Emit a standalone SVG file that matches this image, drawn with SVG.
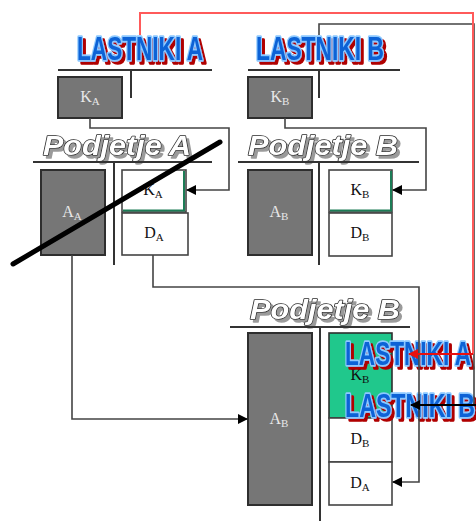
<svg xmlns="http://www.w3.org/2000/svg" width="476" height="521" viewBox="0 0 476 521">
  <style>
    .owner { font-family: "Liberation Sans", "DejaVu Sans", sans-serif; font-size: 34px; font-weight: bold; fill: #0a62d6; stroke: #8cc8ff; stroke-width: 3.5; paint-order: stroke; stroke-linejoin: round; filter: url(#red-shadow); }
    .company { font-family: "Liberation Sans", "DejaVu Sans", sans-serif; font-size: 28px; font-weight: bold; font-style: italic; fill: #ffffff; stroke: #2a2a2a; stroke-width: 1.5; paint-order: stroke; stroke-linejoin: round; filter: url(#gray-shadow); }
    .rule { stroke: #333333; stroke-width: 2; fill: none; }
    .dark { fill: #767676; stroke: #2e2e2e; stroke-width: 2; }
    .light { fill: #ffffff; stroke: #444444; stroke-width: 1.6; }
    .green { fill: #20c88c; stroke: #2e2e2e; stroke-width: 1.6; }
    .edge-green { fill: none; stroke: #1c7c56; stroke-width: 2; }
    .lbl { font-family: "Liberation Serif", "DejaVu Serif", serif; font-size: 16px; text-anchor: middle; }
    .lbl-light { fill: #e8e8e8; }
    .lbl-dark { fill: #111111; }
    .sub { font-size: 11px; }
    .wire { fill: none; stroke: #444444; stroke-width: 1.6; }
    .wire-red { fill: none; stroke: #ff5a5a; stroke-width: 2; }
  </style>
  <defs>
    <filter id="red-shadow" x="-10%" y="-20%" width="130%" height="150%">
      <feOffset in="SourceAlpha" dx="3" dy="3" result="off"/>
      <feFlood flood-color="#b00000"/>
      <feComposite in2="off" operator="in" result="shadow"/>
      <feMerge>
        <feMergeNode in="shadow"/>
        <feMergeNode in="SourceGraphic"/>
      </feMerge>
    </filter>
    <filter id="gray-shadow" x="-10%" y="-20%" width="130%" height="150%">
      <feOffset in="SourceAlpha" dx="3" dy="3" result="off"/>
      <feFlood flood-color="#9a9a9a"/>
      <feComposite in2="off" operator="in" result="shadow"/>
      <feMerge>
        <feMergeNode in="shadow"/>
        <feMergeNode in="SourceGraphic"/>
      </feMerge>
    </filter>
    <marker id="arrow-big" viewBox="0 0 10 10" refX="9" refY="5" markerWidth="12" markerHeight="10" orient="auto" markerUnits="userSpaceOnUse">
      <path d="M0,0 L10,5 L0,10 z" fill="#000000"/>
    </marker>
    <marker id="arrow-red" viewBox="0 0 10 10" refX="9" refY="5" markerWidth="12" markerHeight="10" orient="auto" markerUnits="userSpaceOnUse">
      <path d="M0,0 L10,5 L0,10 z" fill="#e81010"/>
    </marker>
  </defs>

  <!-- owners of company A -->
  <g id="owners-a">
    <text class="owner" x="77" y="60" textLength="126" lengthAdjust="spacingAndGlyphs">LASTNIKI A</text>
    <path class="rule" d="M58,70 H212"/>
    <path class="rule" d="M131,70 V98"/>
  </g>
  <g id="capital-owners-a">
    <rect class="dark" x="58" y="77" width="64" height="41"/>
    <text class="lbl lbl-light" x="90" y="102">K<tspan class="sub" dy="3">A</tspan></text>
  </g>

  <!-- owners of company B -->
  <g id="owners-b">
    <text class="owner" x="256" y="60" textLength="128" lengthAdjust="spacingAndGlyphs">LASTNIKI B</text>
    <path class="rule" d="M248,70 H400"/>
    <path class="rule" d="M319,70 V98"/>
  </g>
  <g id="capital-owners-b">
    <rect class="dark" x="248" y="77" width="64" height="41"/>
    <text class="lbl lbl-light" x="280" y="102">K<tspan class="sub" dy="3">B</tspan></text>
  </g>

  <!-- company A balance sheet -->
  <g id="company-a">
    <text class="company" x="43" y="155" textLength="148" lengthAdjust="spacingAndGlyphs">Podjetje A</text>
    <path class="rule" d="M33,162 H212"/>
    <path class="rule" d="M114,162 V265"/>
  </g>
  <g id="assets-a">
    <rect class="dark" x="41" y="170" width="64" height="85"/>
    <text class="lbl lbl-light" x="72" y="217">A<tspan class="sub" dy="3">A</tspan></text>
  </g>
  <g id="equity-a">
    <rect class="light" x="122" y="170" width="64" height="42"/>
    <path class="edge-green" d="M184,171 V210.5 H123"/>
    <text class="lbl lbl-dark" x="153" y="195">K<tspan class="sub" dy="3">A</tspan></text>
  </g>
  <g id="debt-a">
    <rect class="light" x="122" y="213" width="66" height="42"/>
    <text class="lbl lbl-dark" x="154" y="238">D<tspan class="sub" dy="3">A</tspan></text>
  </g>

  <!-- company B balance sheet -->
  <g id="company-b">
    <text class="company" x="248" y="155" textLength="150" lengthAdjust="spacingAndGlyphs">Podjetje B</text>
    <path class="rule" d="M238,162 H419"/>
    <path class="rule" d="M319,162 V265"/>
  </g>
  <g id="assets-b">
    <rect class="dark" x="248" y="170" width="64" height="85"/>
    <text class="lbl lbl-light" x="279" y="217">A<tspan class="sub" dy="3">B</tspan></text>
  </g>
  <g id="equity-b">
    <rect class="light" x="329" y="170" width="63" height="42"/>
    <path class="edge-green" d="M391,171 V210.5 H330"/>
    <text class="lbl lbl-dark" x="360" y="195">K<tspan class="sub" dy="3">B</tspan></text>
  </g>
  <g id="debt-b">
    <rect class="light" x="329" y="213" width="63" height="43"/>
    <text class="lbl lbl-dark" x="360" y="238">D<tspan class="sub" dy="3">B</tspan></text>
  </g>

  <!-- merged company B -->
  <g id="merged-b">
    <text class="company" x="250" y="319" textLength="150" lengthAdjust="spacingAndGlyphs">Podjetje B</text>
    <path class="rule" d="M230,327 H410"/>
    <path class="rule" d="M320,327 V521"/>
  </g>
  <g id="merged-assets">
    <rect class="dark" x="248" y="333" width="64" height="172"/>
    <text class="lbl lbl-light" x="279" y="424">A<tspan class="sub" dy="3">B</tspan></text>
  </g>
  <g id="merged-equity">
    <rect class="green" x="329" y="333" width="63" height="85"/>
    <text class="lbl lbl-dark" x="360" y="380">K<tspan class="sub" dy="3">B</tspan></text>
  </g>
  <g id="merged-debt-b">
    <rect class="light" x="329" y="418" width="63" height="44"/>
    <text class="lbl lbl-dark" x="360" y="444">D<tspan class="sub" dy="3">B</tspan></text>
  </g>
  <g id="merged-debt-a">
    <rect class="light" x="329" y="462" width="63" height="43"/>
    <text class="lbl lbl-dark" x="360" y="488">D<tspan class="sub" dy="3">A</tspan></text>
  </g>

  <!-- new owners of merged company -->
  <g id="merged-owners-a">
    <text class="owner" x="345" y="365" textLength="126" lengthAdjust="spacingAndGlyphs">LASTNIKI A</text>
  </g>
  <g id="merged-owners-b">
    <text class="owner" x="345" y="417" textLength="130" lengthAdjust="spacingAndGlyphs">LASTNIKI B</text>
  </g>

  <!-- connectors -->
  <g id="connectors">
    <path class="wire" d="M90,118 V128 H229 V190 H187" marker-end="url(#arrow-big)"/>
    <path class="wire" d="M285,118 V128 H426 V190 H393" marker-end="url(#arrow-big)"/>
    <path class="wire" d="M153,255 V287 H419 V482 H393" marker-end="url(#arrow-big)"/>
    <path class="wire" d="M72,255 V419 H247" marker-end="url(#arrow-big)"/>
    <path class="wire" d="M319,35 V24 H474 V405"/>
    <path fill="none" stroke="#000000" stroke-width="2" d="M476,405 H411" marker-end="url(#arrow-big)"/>
    <path class="wire-red" d="M140,35 V13 H473 V354"/>
    <path fill="none" stroke="#e81010" stroke-width="2" d="M473,354 H409" marker-end="url(#arrow-red)"/>
  </g>

  <!-- strike-through over company A -->
  <g id="strike">
    <path d="M13,264 L220,142" stroke="#000000" stroke-width="5" stroke-linecap="round"/>
  </g>
</svg>
